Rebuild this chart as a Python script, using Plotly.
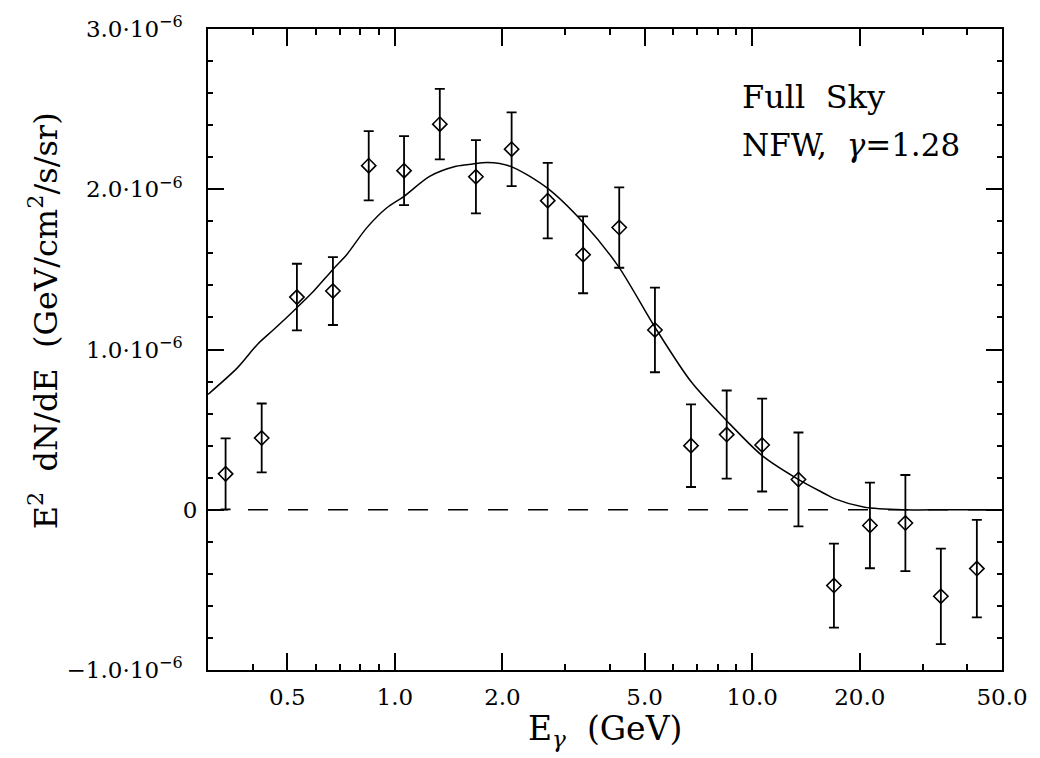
import plotly.graph_objects as go

# ---- data (units: GeV for energy, 1e-6 GeV/cm^2/s/sr for flux) ----
energy = [0.336, 0.424, 0.532, 0.671, 0.845, 1.061, 1.336, 1.686, 2.122, 2.678, 3.363,
          4.245, 5.343, 6.741, 8.484, 10.66, 13.47, 16.93, 21.35, 26.83, 33.72, 42.52]
flux = [0.224, 0.448, 1.327, 1.365, 2.147, 2.116, 2.406, 2.078, 2.250, 1.929, 1.591,
        1.761, 1.122, 0.400, 0.469, 0.404, 0.189, -0.473, -0.098, -0.083, -0.540, -0.367]
flux_err = [0.222, 0.215, 0.208, 0.212, 0.216, 0.215, 0.220, 0.228, 0.230, 0.235, 0.240,
            0.251, 0.264, 0.258, 0.275, 0.290, 0.293, 0.262, 0.267, 0.300, 0.298, 0.304]

model_energy = [0.30, 0.363, 0.413, 0.459, 0.532, 0.593, 0.671, 0.734, 0.834, 0.948, 1.061,
                1.251, 1.483, 1.650, 1.816, 2.108, 2.666, 3.372, 4.217, 5.34, 6.74, 8.48,
                10.66, 13.45, 15.98, 17.03, 20.64, 26.66, 35.0, 50.0]
model_flux = [0.72, 0.887, 1.033, 1.126, 1.261, 1.365, 1.50, 1.593, 1.759, 1.883, 1.956,
              2.080, 2.143, 2.157, 2.167, 2.143, 2.008, 1.79, 1.52, 1.14, 0.80, 0.556,
              0.338, 0.19, 0.10, 0.068, 0.016, 0.0, 0.0, 0.0]

zero_line_x = [0.3, 50.0]
zero_line_y = [0.0, 0.0]

x_tickvals = [0.5, 1.0, 2.0, 5.0, 10.0, 20.0, 50.0]
x_ticktext = ["0.5", "1.0", "2.0", "5.0", "10.0", "20.0", "50.0"]
x_minor = [0.4, 0.6, 0.7, 0.8, 0.9, 3, 4, 6, 7, 8, 9, 30, 40]
y_tickvals = [-1.0, 0.0, 1.0, 2.0, 3.0]
y_ticktext = ["\u22121.0\u00b710<sup>\u22126</sup>\u00a0\u00a0", "0",
              "1.0\u00b710<sup>\u22126</sup>\u00a0\u00a0", "2.0\u00b710<sup>\u22126</sup>\u00a0\u00a0",
              "3.0\u00b710<sup>\u22126</sup>\u00a0\u00a0"]
y_minor = [-0.8, -0.6, -0.4, -0.2, 0.2, 0.4, 0.6, 0.8, 1.2, 1.4, 1.6, 1.8,
           2.2, 2.4, 2.6, 2.8]

SCALE = 1e-6
FONT = "DejaVu Serif"
SP = "\u00a0"

fig = go.Figure()

fig.add_trace(go.Scatter(
    x=zero_line_x, y=[v * SCALE for v in zero_line_y], mode="lines",
    line=dict(color="black", width=1.5, dash="20px,20px"), hoverinfo="skip"))

fig.add_trace(go.Scatter(
    x=model_energy, y=[v * SCALE for v in model_flux], mode="lines",
    line=dict(color="black", width=1.5, shape="spline", smoothing=0.8)))

fig.add_trace(go.Scatter(
    x=energy, y=[v * SCALE for v in flux], mode="markers",
    marker=dict(symbol="diamond-open", size=11, color="black", line=dict(width=1.6)),
    error_y=dict(type="data", array=[e * SCALE for e in flux_err], visible=True,
                 color="black", thickness=1.8, width=5)))

axis_common = dict(showgrid=False, zeroline=False, showline=True, linecolor="black",
                   linewidth=2, mirror="ticks", ticks="inside", tickcolor="black",
                   tickwidth=1.5, tickfont=dict(family=FONT, size=23, color="black"))

fig.update_xaxes(type="log", range=[-0.52288, 1.69897], tickmode="array",
                 tickvals=x_tickvals, ticktext=x_ticktext, ticklen=17,
                 ticklabelstandoff=5,
                 minor=dict(tickmode="array", tickvals=x_minor, ticks="inside",
                            ticklen=6, tickwidth=1.5, tickcolor="black"),
                 **axis_common)
fig.update_yaxes(range=[-1.0 * SCALE, 3.0 * SCALE], tickmode="array",
                 tickvals=[v * SCALE for v in y_tickvals], ticktext=y_ticktext,
                 ticklen=16, ticklabelstandoff=4,
                 minor=dict(tickmode="array", tickvals=[v * SCALE for v in y_minor],
                            ticks="inside", ticklen=5, tickwidth=1.5, tickcolor="black"),
                 **axis_common)

W, H = 1040, 758
L, R, T, B = 208, 32, 27, 88
pw, ph = W - L - R, H - T - B


def px_x(p):
    return (p - L) / pw


def px_y(p):
    return (H - B - p) / ph


annots = [
    dict(text=f"E<sup>2</sup>{SP}{SP}dN/dE{SP}{SP}(GeV/cm<sup>2</sup>/s/sr)", x=px_x(42),
         y=px_y(320), textangle=-90, xanchor="center", yanchor="middle", font=dict(size=32)),
    dict(text=f"E<sub><i>\u03b3</i></sub>{SP}{SP}(GeV)", x=px_x(608), y=px_y(731),
         xanchor="center", yanchor="middle", font=dict(size=33)),
    dict(text=f"Full{SP}{SP}Sky", x=px_x(744), y=px_y(95), xanchor="left", yanchor="middle",
         font=dict(size=32)),
    dict(text=f"NFW,{SP}{SP}<i>\u03b3</i>=1.28", x=px_x(744), y=px_y(143), xanchor="left",
         yanchor="middle", font=dict(size=31)),
]
for a in annots:
    a.update(xref="paper", yref="paper", showarrow=False)
    a["font"].update(family=FONT, color="black")

fig.update_layout(width=W, height=H, margin=dict(l=L, r=R, t=T, b=B),
                  paper_bgcolor="white", plot_bgcolor="white", showlegend=False,
                  annotations=annots, font=dict(family=FONT, color="black"))

fig.write_html("out.html")
